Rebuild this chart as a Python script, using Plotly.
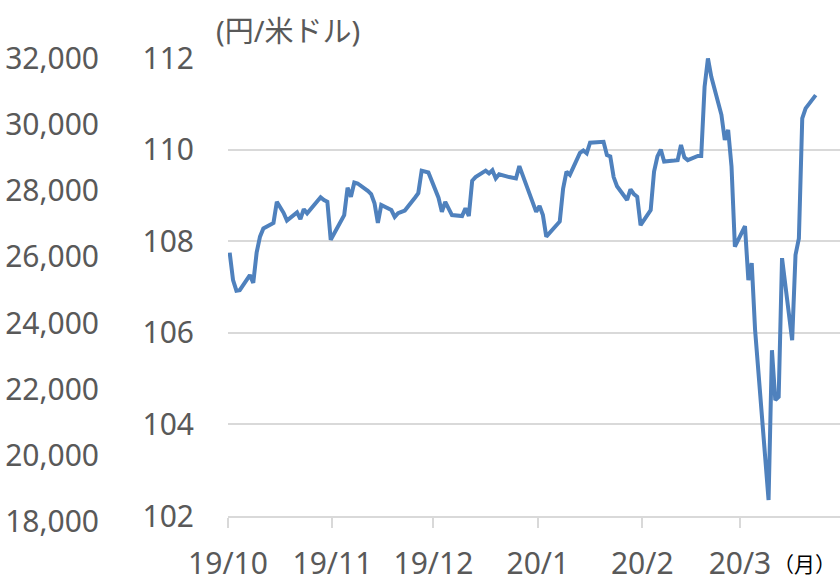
import plotly.graph_objects as go
import pandas as pd

dates = [
    "2019-10-01", "2019-10-02", "2019-10-03", "2019-10-04", "2019-10-07", "2019-10-08",
    "2019-10-09", "2019-10-10", "2019-10-11", "2019-10-14", "2019-10-15", "2019-10-16",
    "2019-10-17", "2019-10-18", "2019-10-21", "2019-10-22", "2019-10-23", "2019-10-24",
    "2019-10-25", "2019-10-28", "2019-10-29", "2019-10-30", "2019-10-31", "2019-11-01",
    "2019-11-04", "2019-11-05", "2019-11-06", "2019-11-07", "2019-11-08", "2019-11-11",
    "2019-11-12", "2019-11-13", "2019-11-14", "2019-11-15", "2019-11-18", "2019-11-19",
    "2019-11-20", "2019-11-21", "2019-11-22", "2019-11-25", "2019-11-26", "2019-11-27",
    "2019-11-28", "2019-11-29", "2019-12-02", "2019-12-03", "2019-12-04", "2019-12-05",
    "2019-12-06", "2019-12-09", "2019-12-10", "2019-12-11", "2019-12-12", "2019-12-13",
    "2019-12-16", "2019-12-17", "2019-12-18", "2019-12-19", "2019-12-20", "2019-12-23",
    "2019-12-24", "2019-12-25", "2019-12-26", "2019-12-27", "2019-12-30", "2019-12-31",
    "2020-01-01", "2020-01-02", "2020-01-03", "2020-01-06", "2020-01-07", "2020-01-08",
    "2020-01-09", "2020-01-10", "2020-01-13", "2020-01-14", "2020-01-15", "2020-01-16",
    "2020-01-17", "2020-01-20", "2020-01-21", "2020-01-22", "2020-01-23", "2020-01-24",
    "2020-01-27", "2020-01-28", "2020-01-29", "2020-01-30", "2020-01-31", "2020-02-03",
    "2020-02-04", "2020-02-05", "2020-02-06", "2020-02-07", "2020-02-10", "2020-02-11",
    "2020-02-12", "2020-02-13", "2020-02-14", "2020-02-17", "2020-02-18", "2020-02-19",
    "2020-02-20", "2020-02-21", "2020-02-24", "2020-02-25", "2020-02-26", "2020-02-27",
    "2020-02-28", "2020-03-02", "2020-03-03", "2020-03-04", "2020-03-05", "2020-03-06",
    "2020-03-09", "2020-03-10", "2020-03-11", "2020-03-12", "2020-03-13", "2020-03-16",
    "2020-03-17", "2020-03-18", "2020-03-19", "2020-03-20", "2020-03-23",
]

usdjpy = [
    107.75, 107.15, 106.92, 106.93, 107.26, 107.09,
    107.75, 108.10, 108.28, 108.40, 108.86, 108.75,
    108.62, 108.45, 108.63, 108.48, 108.70, 108.61,
    108.69, 108.96, 108.90, 108.86, 108.03, 108.16,
    108.57, 109.17, 108.97, 109.28, 109.26, 109.10,
    109.03, 108.83, 108.40, 108.79, 108.68, 108.53,
    108.61, 108.64, 108.67, 108.95, 109.05, 109.54,
    109.52, 109.50, 108.95, 108.64, 108.86, 108.70,
    108.57, 108.55, 108.72, 108.55, 109.32, 109.40,
    109.54, 109.48, 109.55, 109.37, 109.46, 109.40,
    109.38, 109.37, 109.64, 109.44, 108.90, 108.64,
    108.77, 108.57, 108.10, 108.35, 108.43, 109.15,
    109.52, 109.45, 109.93, 109.98, 109.92, 110.15,
    110.15, 110.17, 109.88, 109.85, 109.40, 109.20,
    108.90, 109.13, 109.03, 108.97, 108.35, 108.68,
    109.52, 109.85, 110.00, 109.74, 109.76, 109.77,
    110.10, 109.83, 109.77, 109.86, 109.86, 111.37,
    111.99, 111.59, 110.76, 110.21, 110.43, 109.63,
    107.88, 108.33, 107.15, 107.52, 106.06, 105.15,
    102.35, 105.62, 104.53, 104.60, 107.63, 105.84,
    107.70, 108.06, 110.68, 110.90, 111.19,
]

month_ticks = ["2019-10-01", "2019-11-01", "2019-12-01", "2020-01-01", "2020-02-01", "2020-03-01"]
month_labels = ["19/10", "19/11", "19/12", "20/1", "20/2", "20/3"]

fx_ticks = [102, 104, 106, 108, 110, 112]
stock_ticks = [18000, 20000, 22000, 24000, 26000, 28000, 30000, 32000]

FONT = "Noto Sans, Noto Sans CJK JP, sans-serif"
CJK = "Noto Sans CJK JP, sans-serif"
GREY = "#595959"
GRID = "#d9d9d9"
XRANGE = ["2019-10-01", "2020-03-30 17:00"]

x = pd.to_datetime(dates) + pd.Timedelta(hours=12)

fig = go.Figure()
# empty trace so the outer (left) axis is drawn
fig.add_trace(go.Scatter(
    x=[None], y=[None], xaxis="x2", yaxis="y2", mode="lines",
    showlegend=False, hoverinfo="skip",
))
fig.add_trace(go.Scatter(
    x=x, y=usdjpy, mode="lines",
    line=dict(color="#4F81BD", width=4),
    showlegend=False, hoverinfo="skip",
))

fig.update_layout(
    width=840, height=583,
    margin=dict(l=228, r=0, t=58, b=55, autoexpand=False),
    plot_bgcolor="rgba(0,0,0,0)", paper_bgcolor="white",
    font=dict(family=FONT, color=GREY, size=30),
    xaxis=dict(
        type="date", range=XRANGE,
        tickmode="array", tickvals=month_ticks, ticktext=month_labels,
        ticks="outside", ticklen=10, tickwidth=2, tickcolor=GRID,
        ticklabelstandoff=10,
        showline=True, linecolor=GRID, linewidth=2,
        showgrid=False, zeroline=False, automargin=False,
        tickfont=dict(size=30, color=GREY, family=FONT),
        anchor="y",
    ),
    yaxis=dict(
        domain=[0.0255, 1],
        range=[102, 112], tickmode="array", tickvals=fx_ticks,
        showgrid=True, gridcolor=GRID, gridwidth=2,
        zeroline=False, showline=False, automargin=False,
        ticks="", ticklabelstandoff=33,
        tickfont=dict(size=30, color=GREY, family=FONT),
    ),
    xaxis2=dict(
        domain=[0, 1], anchor="y2", visible=False,
        type="date", range=XRANGE,
    ),
    yaxis2=dict(
        domain=[0.0128, 1],
        range=[18000, 32000], tickmode="array", tickvals=stock_ticks,
        tickformat=",", anchor="free", position=0, side="left",
        showgrid=False, zeroline=False, showline=False, automargin=False,
        ticks="", ticklabelstandoff=129,
        tickfont=dict(size=30, color=GREY, family=FONT),
    ),
    annotations=[
        dict(text="(円/米ドル)", xref="paper", yref="paper",
             x=-14 / 612, y=(528 - 31) / 470, xanchor="left", yanchor="middle",
             showarrow=False, font=dict(size=29, color=GREY, family=FONT)),
        dict(text="（月）", xref="paper", yref="paper",
             x=(804 - 228) / 612, y=(528 - 563) / 470, xanchor="center", yanchor="middle",
             showarrow=False, borderpad=0, font=dict(size=21, color="black", family=CJK)),
    ],
)

fig.write_html("out.html", config={"displayModeBar": False},
               post_script="document.body.style.margin='0px';")
